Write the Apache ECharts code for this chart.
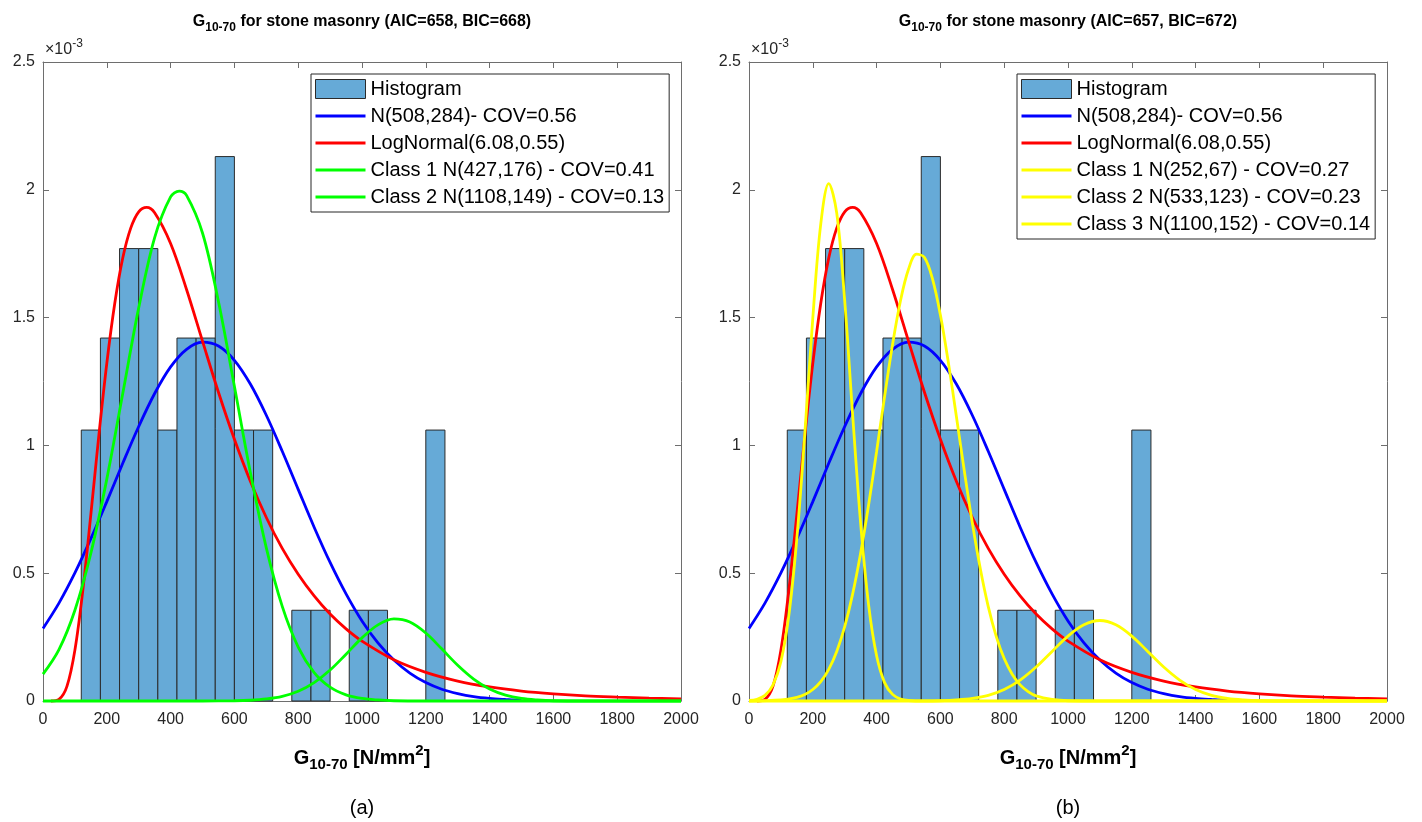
<!DOCTYPE html>
<html lang="en">
<head>
<meta charset="UTF-8">
<script src="https://cdn.jsdelivr.net/npm/echarts@6/dist/echarts.min.js"></script>
<style>
  html, body { margin: 0; padding: 0; background: #fff; }
  #main { width: 1422px; height: 822px; }
</style>
</head>
<body>
<div id="main"></div>
<script>
// histogram (same data in both panels), density in 1e-3 units
var binEdges = [120, 180, 240, 300, 360, 420, 480, 540, 600, 660, 720, 780, 840, 900, 960, 1020, 1080, 1140, 1200, 1260];
var binHeights = [1.06, 1.42, 1.77, 1.77, 1.06, 1.42, 1.42, 2.13, 1.06, 1.06, 0, 0.355, 0.355, 0, 0.355, 0.355, 0, 0, 1.06];

// fitted curves, [x, density*1e3]
var normalFit = [[0,0.284],[50,0.383],[100,0.501],[150,0.635],[200,0.780],[250,0.930],[300,1.074],[350,1.203],[400,1.307],[450,1.376],[500,1.404],[550,1.389],[600,1.333],[650,1.240],[700,1.118],[750,0.977],[800,0.828],[850,0.680],[900,0.542],[950,0.419],[1000,0.313],[1050,0.227],[1100,0.160],[1150,0.109],[1200,0.072],[1250,0.046],[1300,0.029],[1350,0.017],[1400,0.010],[1450,0.006],[1500,0.003]];
var logNormalFit = [[25,0],[50,0.006],[75,0.057],[100,0.199],[125,0.435],[150,0.730],[175,1.038],[200,1.321],[225,1.556],[250,1.733],[275,1.850],[300,1.914],[325,1.931],[350,1.910],[400,1.790],[450,1.610],[500,1.408],[550,1.208],[600,1.024],[650,0.860],[700,0.718],[750,0.597],[800,0.496],[850,0.411],[900,0.340],[950,0.282],[1000,0.234],[1100,0.161],[1200,0.112],[1300,0.078],[1400,0.055],[1500,0.039],[1600,0.028],[1700,0.020],[1800,0.015],[1900,0.011],[2000,0.008]];

// panel (a): two classes
var classA1 = [[0,0.105],[50,0.201],[100,0.355],[150,0.578],[200,0.868],[250,1.203],[300,1.538],[350,1.813],[400,1.972],[427,1.995],[450,1.978],[500,1.831],[550,1.563],[600,1.231],[650,0.894],[700,0.599],[750,0.370],[800,0.211],[850,0.111],[900,0.054],[950,0.024],[1000,0.010],[1050,0.004],[1100,0.001],[1200,0],[2000,0]];
var classA2 = [[0,0],[500,0],[600,0.001],[650,0.003],[700,0.008],[750,0.018],[800,0.038],[850,0.072],[900,0.121],[950,0.183],[1000,0.247],[1050,0.298],[1100,0.321],[1150,0.309],[1200,0.266],[1250,0.204],[1300,0.140],[1350,0.086],[1400,0.047],[1450,0.023],[1500,0.010],[1550,0.004],[1600,0.001],[1700,0],[2000,0]];

// panel (b): three classes
var classB1 = [[0,0.002],[25,0.007],[50,0.022],[75,0.062],[100,0.154],[125,0.336],[150,0.636],[175,1.046],[200,1.498],[225,1.867],[250,2.024],[275,1.909],[300,1.566],[325,1.118],[350,0.695],[375,0.375],[400,0.177],[425,0.072],[450,0.026],[475,0.008],[500,0.002],[550,0],[2000,0]];
var classB2 = [[0,0],[100,0.004],[150,0.014],[175,0.025],[200,0.045],[225,0.076],[250,0.124],[275,0.194],[300,0.291],[325,0.419],[350,0.579],[375,0.768],[400,0.976],[425,1.191],[450,1.395],[475,1.567],[500,1.689],[525,1.748],[550,1.735],[575,1.652],[600,1.510],[625,1.324],[650,1.114],[675,0.900],[700,0.697],[725,0.518],[750,0.369],[775,0.253],[800,0.166],[825,0.105],[850,0.063],[875,0.037],[900,0.020],[950,0.006],[1000,0.001],[1100,0],[2000,0]];
var classB3 = [[0,0],[550,0],[600,0.001],[650,0.004],[700,0.010],[750,0.022],[800,0.045],[850,0.082],[900,0.133],[950,0.194],[1000,0.254],[1050,0.298],[1100,0.315],[1150,0.298],[1200,0.254],[1250,0.194],[1300,0.133],[1350,0.082],[1400,0.045],[1450,0.022],[1500,0.010],[1550,0.004],[1600,0.001],[1700,0],[2000,0]];

var nameHist = 'Histogram';
var nameNormal = 'N(508,284)- COV=0.56';
var nameLogN = 'LogNormal(6.08,0.55)';
var namesA = ['Class 1 N(427,176) - COV=0.41', 'Class 2 N(1108,149) - COV=0.13'];
var namesB = ['Class 1 N(252,67) - COV=0.27', 'Class 2 N(533,123) - COV=0.23', 'Class 3 N(1100,152) - COV=0.14'];
var titleA = 'for stone masonry (AIC=658, BIC=668)';
var titleB = 'for stone masonry (AIC=657, BIC=672)';

var FONT = '"Liberation Sans", Arial, Helvetica, sans-serif';
var barColor = '#66aad7';
var edgeColor = '#2b2b2b';
var axisColor = '#6e6e6e';
var panelLeft = [43, 749];
var panelW = 638, panelTop = 62, panelH = 639;
// legend line icon: a 50x19 box with a 3px bar across the middle
var lineIcon = 'path://M0,0L0,0M50,19L50,19M0,8H50V11H0Z';

var binData = binHeights.map(function (h, i) { return [binEdges[i], binEdges[i + 1], h]; });

function renderBin(params, api) {
    var h = api.value(2);
    if (!h) return;
    var p0 = api.coord([api.value(0), h]);
    var p1 = api.coord([api.value(1), 0]);
    return {
        type: 'rect',
        shape: { x: p0[0], y: p0[1], width: p1[0] - p0[0], height: p1[1] - p0[1] },
        style: { fill: barColor, stroke: edgeColor, lineWidth: 1 }
    };
}

function xAxes(g) {
    var base = {
        gridIndex: g, type: 'value', min: 0, max: 2000, interval: 200,
        axisLine: { show: true, onZero: false, lineStyle: { color: axisColor, width: 1 } },
        axisTick: { show: true, inside: true, length: 6, lineStyle: { color: axisColor } },
        splitLine: { show: false }
    };
    var bottom = Object.assign({}, base, {
        position: 'bottom',
        axisLabel: { show: true, margin: 11, fontSize: 16, color: '#262626', fontFamily: FONT,
            formatter: function (v) { return String(v); } }
    });
    var top = Object.assign({}, base, { position: 'top', axisLabel: { show: false } });
    return [bottom, top];
}

function yAxes(g) {
    var base = {
        gridIndex: g, type: 'value', min: 0, max: 2.5, interval: 0.5,
        axisLine: { show: true, onZero: false, lineStyle: { color: axisColor, width: 1 } },
        axisTick: { show: true, inside: true, length: 6, lineStyle: { color: axisColor } },
        splitLine: { show: false }
    };
    var left = Object.assign({}, base, {
        position: 'left',
        axisLabel: { show: true, margin: 8, fontSize: 16, color: '#262626', fontFamily: FONT }
    });
    var right = Object.assign({}, base, { position: 'right', axisLabel: { show: false } });
    return [left, right];
}

function lineSeries(name, data, color, g) {
    return {
        name: name, type: 'line', data: data, xAxisIndex: g * 2, yAxisIndex: g * 2,
        symbol: 'none', smooth: 0.35, clip: false,
        lineStyle: { color: color, width: 2.8 }, itemStyle: { color: color },
        silent: true, animation: false
    };
}

function histSeries(g) {
    return {
        name: nameHist, type: 'custom', renderItem: renderBin, data: binData,
        xAxisIndex: g * 2, yAxisIndex: g * 2, encode: { x: [0, 1], y: 2 },
        itemStyle: { color: barColor, borderColor: edgeColor, borderWidth: 1 },
        silent: true, animation: false
    };
}

function legendLine(name, color) {
    return { name: name, icon: lineIcon, itemStyle: { color: color, borderWidth: 0 }, lineStyle: { width: 0 } };
}

function legendFor(g, names, classColor) {
    var data = [
        { name: nameHist, icon: 'rect', itemStyle: { color: barColor, borderColor: edgeColor, borderWidth: 1 } },
        legendLine(nameNormal, '#0000ff'),
        legendLine(nameLogN, '#ff0000')
    ].concat(names.map(function (n) { return legendLine(n, classColor); }));
    return {
        orient: 'vertical', left: 311 + (panelLeft[g] - 43), top: 74,
        padding: [5, 5, 5, 4], itemWidth: 50, itemHeight: 19, itemGap: 7,
        borderColor: '#262626', borderWidth: 1, backgroundColor: '#fff',
        textStyle: { fontSize: 20, color: '#000', fontFamily: FONT },
        selectedMode: false, data: data
    };
}

function richSet(main, small) {
    return {
        b: { fontSize: main, fontWeight: 'bold', fontFamily: FONT, color: '#000' },
        s: { fontSize: small, fontWeight: 'bold', fontFamily: FONT, color: '#000', padding: [Math.round(main * 0.7), 0, 0, 0] },
        p: { fontSize: small, fontWeight: 'bold', fontFamily: FONT, color: '#000', padding: [0, 0, Math.round(main * 0.7), 0] }
    };
}

function textEl(x, y, text, rich, font) {
    return {
        type: 'text', x: x, y: y, z: 10,
        style: { text: text, rich: rich, font: font || ('bold 16px ' + FONT), fill: '#000', align: 'center', verticalAlign: 'middle' }
    };
}

var graphics = [];
[titleA, titleB].forEach(function (t, g) {
    var cx = panelLeft[g] + panelW / 2;
    graphics.push(textEl(cx, 22, '{b|G}{s|10-70}{b| ' + t + '}', richSet(16, 12)));
    graphics.push(textEl(cx, 758, '{b|G}{s|10-70}{b| [N/mm}{p|2}{b|]}', richSet(20, 15)));
    graphics.push(textEl(cx, 808, g === 0 ? '(a)' : '(b)', null, '20px ' + FONT));
    graphics.push({
        type: 'text', x: panelLeft[g] + 2, y: 50, z: 10,
        style: {
            text: '{m|\u00d710}{e|-3}', fill: '#262626', align: 'left', verticalAlign: 'middle',
            rich: {
                m: { fontSize: 16, fontFamily: FONT, color: '#262626' },
                e: { fontSize: 12, fontFamily: FONT, color: '#262626', padding: [0, 0, 13, 0] }
            }
        }
    });
});

var chart = echarts.init(document.getElementById('main'));
var option = {
    backgroundColor: '#fff',
    animation: false,
    grid: [
        { left: panelLeft[0], top: panelTop, width: panelW, height: panelH },
        { left: panelLeft[1], top: panelTop, width: panelW, height: panelH }
    ],
    xAxis: xAxes(0).concat(xAxes(1)),
    yAxis: yAxes(0).concat(yAxes(1)),
    legend: [legendFor(0, namesA, '#00ff00'), legendFor(1, namesB, '#ffff00')],
    graphic: graphics,
    series: [
        histSeries(0),
        lineSeries(nameNormal, normalFit, '#0000ff', 0),
        lineSeries(nameLogN, logNormalFit, '#ff0000', 0),
        lineSeries(namesA[0], classA1, '#00ff00', 0),
        lineSeries(namesA[1], classA2, '#00ff00', 0),
        histSeries(1),
        lineSeries(nameNormal, normalFit, '#0000ff', 1),
        lineSeries(nameLogN, logNormalFit, '#ff0000', 1),
        lineSeries(namesB[0], classB1, '#ffff00', 1),
        lineSeries(namesB[1], classB2, '#ffff00', 1),
        lineSeries(namesB[2], classB3, '#ffff00', 1)
    ]
};
chart.setOption(option);
</script>
</body>
</html>
